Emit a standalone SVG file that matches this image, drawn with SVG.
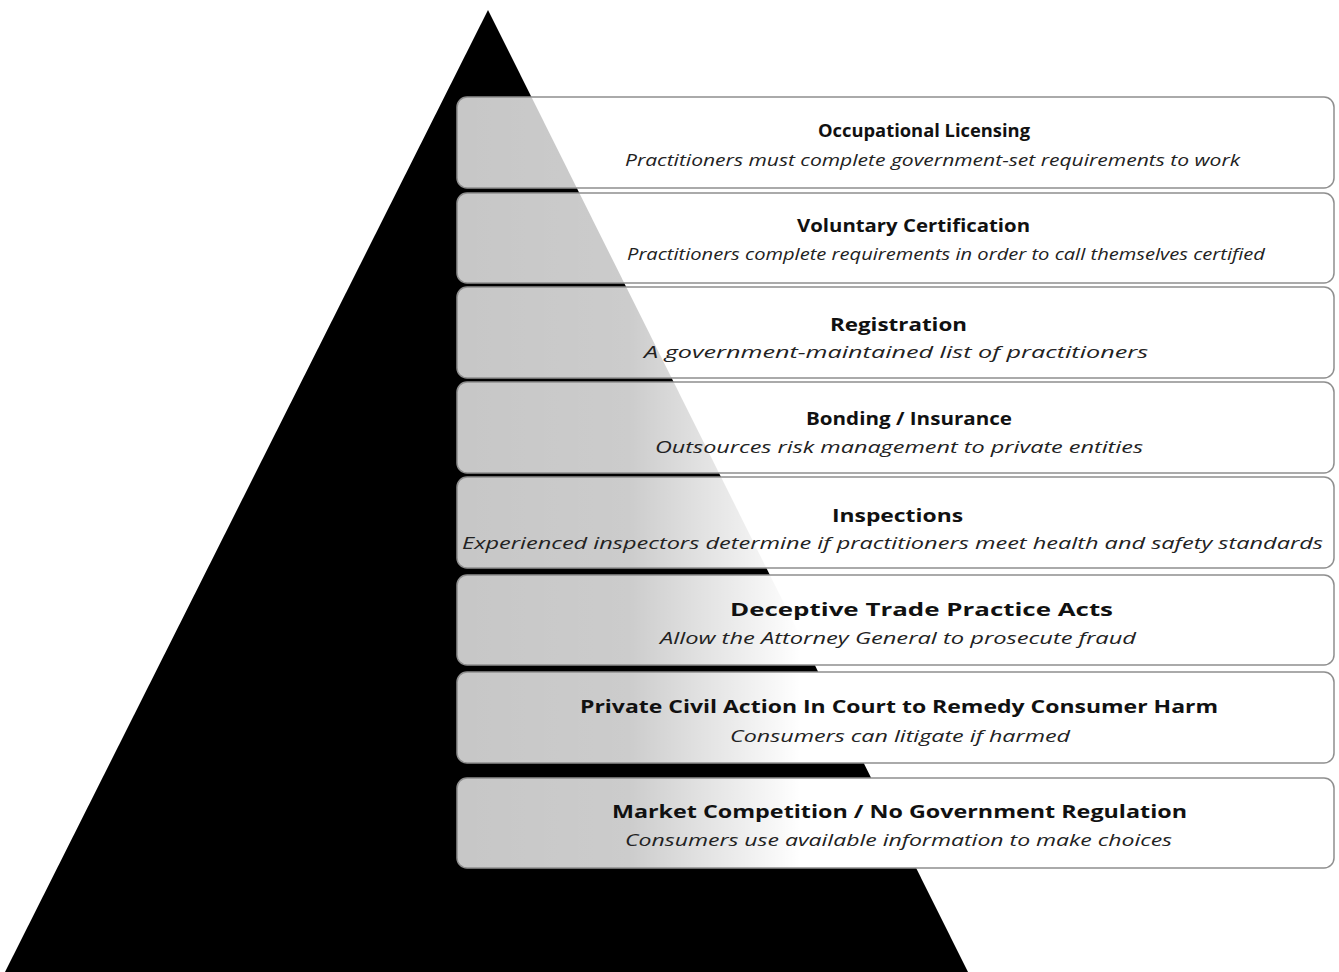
<svg xmlns="http://www.w3.org/2000/svg" width="1339" height="972" viewBox="0 0 1339 972">
<defs>
<linearGradient id="fade" gradientUnits="userSpaceOnUse" x1="457" y1="0" x2="800" y2="0">
<stop offset="0" stop-color="#ffffff" stop-opacity="0.78"/>
<stop offset="0.5" stop-color="#ffffff" stop-opacity="0.8"/>
<stop offset="1" stop-color="#ffffff" stop-opacity="1"/>
</linearGradient>
</defs>
<style>
.box{fill:url(#fade);stroke:#8f8f8f;stroke-width:1.5}
.t{font-family:"Open Sans","Liberation Sans",sans-serif;font-weight:bold;font-size:17px;fill:#111}
.s{font-family:"Open Sans","Liberation Sans",sans-serif;font-style:italic;font-size:16px;fill:#222}
</style>
<rect x="0" y="0" width="1339" height="972" fill="#ffffff"/>
<polygon id="pyramid" points="488,10 5,972 968,972" fill="#000000"/>
<g id="n1">
<rect class="box" x="457" y="97" width="877" height="91" rx="10"/>
<text class="t" x="818" y="137" textLength="212" lengthAdjust="spacingAndGlyphs">Occupational Licensing</text>
<text class="s" x="625" y="166" textLength="615" lengthAdjust="spacingAndGlyphs">Practitioners must complete government-set requirements to work</text>
</g>
<g id="n2">
<rect class="box" x="457" y="193" width="877" height="90" rx="10"/>
<text class="t" x="797" y="232" textLength="233" lengthAdjust="spacingAndGlyphs">Voluntary Certification</text>
<text class="s" x="627" y="260" textLength="638" lengthAdjust="spacingAndGlyphs">Practitioners complete requirements in order to call themselves certified</text>
</g>
<g id="n3">
<rect class="box" x="457" y="287" width="877" height="91" rx="10"/>
<text class="t" x="830" y="331" textLength="137" lengthAdjust="spacingAndGlyphs">Registration</text>
<text class="s" x="644" y="358" textLength="504" lengthAdjust="spacingAndGlyphs">A government-maintained list of practitioners</text>
</g>
<g id="n4">
<rect class="box" x="457" y="382" width="877" height="91" rx="10"/>
<text class="t" x="806" y="425" textLength="206" lengthAdjust="spacingAndGlyphs">Bonding / Insurance</text>
<text class="s" x="655" y="453" textLength="488" lengthAdjust="spacingAndGlyphs">Outsources risk management to private entities</text>
</g>
<g id="n5">
<rect class="box" x="457" y="477" width="877" height="91" rx="10"/>
<text class="t" x="832" y="522" textLength="131" lengthAdjust="spacingAndGlyphs">Inspections</text>
<text class="s" x="462" y="549" textLength="861" lengthAdjust="spacingAndGlyphs">Experienced inspectors determine if practitioners meet health and safety standards</text>
</g>
<g id="n6">
<rect class="box" x="457" y="575" width="877" height="90" rx="10"/>
<text class="t" x="730" y="616" textLength="383" lengthAdjust="spacingAndGlyphs">Deceptive Trade Practice Acts</text>
<text class="s" x="660" y="644" textLength="476" lengthAdjust="spacingAndGlyphs">Allow the Attorney General to prosecute fraud</text>
</g>
<g id="n7">
<rect class="box" x="457" y="672" width="877" height="91" rx="10"/>
<text class="t" x="580" y="713" textLength="638" lengthAdjust="spacingAndGlyphs">Private Civil Action In Court to Remedy Consumer Harm</text>
<text class="s" x="730" y="742" textLength="340" lengthAdjust="spacingAndGlyphs">Consumers can litigate if harmed</text>
</g>
<g id="n8">
<rect class="box" x="457" y="778" width="877" height="90" rx="10"/>
<text class="t" x="612" y="818" textLength="575" lengthAdjust="spacingAndGlyphs">Market Competition / No Government Regulation</text>
<text class="s" x="625" y="846" textLength="547" lengthAdjust="spacingAndGlyphs">Consumers use available information to make choices</text>
</g>
</svg>
